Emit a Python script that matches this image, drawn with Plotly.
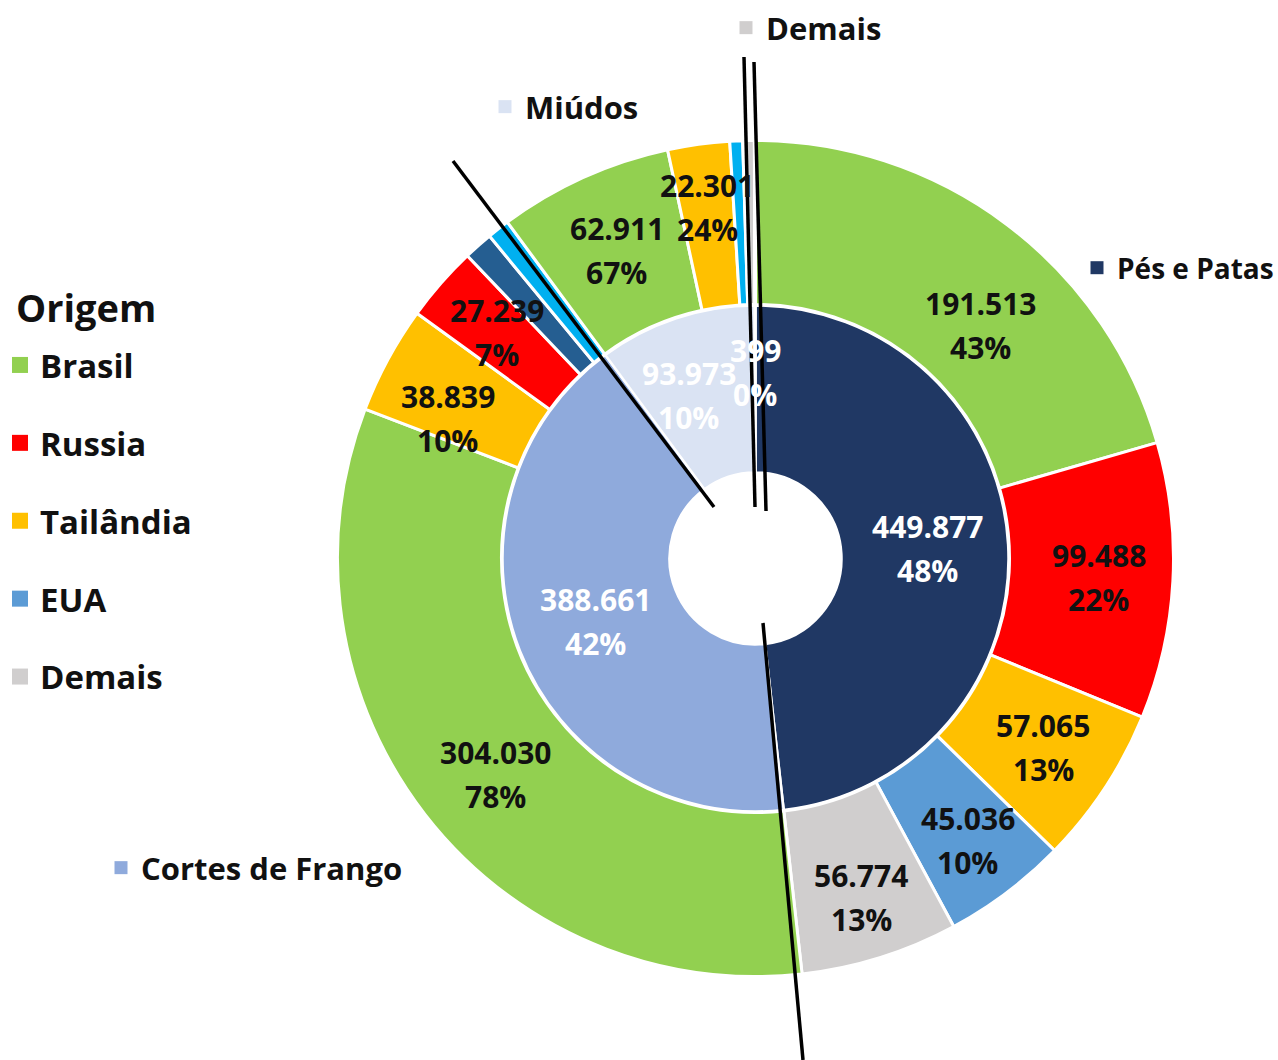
import math
import plotly.graph_objects as go

W, H = 1278, 1060

# Inner ring: product groups
grupos = ["Pés e Patas", "Cortes de Frango", "Miúdos", "Demais"]
grupo_vol = [449877, 388661, 93973, 399]
grupo_cor = ["#203864", "#8FAADC", "#DAE3F3", "#D9D9D9"]

# Outer ring: origin breakdown of each group, in the same clockwise order
sub_grupo = ["Pés e Patas"] * 5 + ["Cortes de Frango"] * 5 + ["Miúdos"] * 5 + ["Demais"]
sub_origem = ["Brasil", "Russia", "Tailândia", "EUA", "Demais",
              "Brasil", "Tailândia", "Russia", "Outra origem A", "Outra origem B",
              "Brasil", "Tailândia", "Outra origem B", "Russia", "Demais",
              "Demais"]
sub_vol = [191513, 99488, 57065, 45036, 56774,
           304030, 38839, 27239, 10500, 8053,
           62911, 22301, 4600, 1000, 3161,
           399]

# Legend entries (origins)
origens = ["Brasil", "Russia", "Tailândia", "EUA", "Demais"]
origem_cor = {"Brasil": "#92D050", "Russia": "#FF0000", "Tailândia": "#FFC000",
              "EUA": "#5B9BD5", "Demais": "#D0CECE",
              "Outra origem A": "#255E91", "Outra origem B": "#00B0F0"}

FONT = "Open Sans"
INK = "#111111"

# geometry (pixels)
CX, CY = 755.5, 558.5
R_OUT, R_MID, R_HOLE = 418, 253, 86
R_LBL_IN, R_LBL_OUT = 172, 338

# label placement tweaks (degrees, pixels) for crowded slices
nudge_in = {"Miúdos": (-4, 4), "Demais": (0, 14)}
nudge_out = {
    ("Pés e Patas", "Brasil"): (7, -14),
    ("Pés e Patas", "Russia"): (0, 6),
    ("Pés e Patas", "Tailândia"): (0, 6),
    ("Pés e Patas", "EUA"): (0, 15),
    ("Pés e Patas", "Demais"): (0, 17),
    ("Cortes de Frango", "Brasil"): (-2, 0),
    ("Cortes de Frango", "Tailândia"): (-4, 0),
    ("Cortes de Frango", "Russia"): (0, 6),
    ("Miúdos", "Tailândia"): (0, 16),
}


def fx(x):
    return x / W


def fy(y):
    return 1 - y / H


def dom(r):
    return dict(x=[fx(CX - r), fx(CX + r)], y=[fy(CY + r), fy(CY - r)])


def br(v):
    return f"{v:,}".replace(",", ".")


fig = go.Figure()

fig.add_trace(go.Pie(
    labels=grupos, values=grupo_vol, sort=False, direction="clockwise", rotation=0,
    hole=R_HOLE / R_MID, domain=dom(R_MID), textinfo="none",
    marker=dict(colors=grupo_cor, line=dict(color="white", width=2.5)),
    showlegend=False, hoverinfo="label+value+percent",
))

fig.add_trace(go.Pie(
    labels=[f"{g} · {o}" for g, o in zip(sub_grupo, sub_origem)], values=sub_vol,
    sort=False, direction="clockwise", rotation=0,
    hole=(R_MID + 1) / R_OUT, domain=dom(R_OUT), textinfo="none",
    marker=dict(colors=[origem_cor[o] for o in sub_origem], line=dict(color="white", width=3)),
    showlegend=False, hoverinfo="label+value",
))

# legend of origins via marker-only traces
for o in origens:
    fig.add_trace(go.Scatter(
        x=[None], y=[None], mode="markers", name=o, legendgroup=o,
        marker=dict(symbol="square", size=16, color=origem_cor[o]),
    ))

# group keys placed around the chart: (left px, centre y px, legend id, font size)
grupo_legend_pos = {
    "Pés e Patas": (1077, 268, "legend2", 28),
    "Cortes de Frango": (101, 868, "legend3", 31),
    "Miúdos": (485, 107, "legend4", 31),
    "Demais": (726, 28, "legend5", 31),
}
for g, c in zip(grupos, grupo_cor):
    if g == "Demais":
        c = "#D0CECE"
    fig.add_trace(go.Scatter(
        x=[None], y=[None], mode="markers", name=g, legend=grupo_legend_pos[g][2],
        marker=dict(symbol="square", size=13, color=c),
    ))

annotations = [dict(
    x=fx(14), y=fy(307), xref="paper", yref="paper", xanchor="left", yanchor="middle",
    text="Origem", showarrow=False,
    font=dict(family=FONT, size=38, color=INK, weight="bold"),
)]


def label(theta_deg, r, top, bottom, color):
    t = math.radians(theta_deg)
    x = CX + r * math.sin(t)
    y = CY - r * math.cos(t)
    for txt, dy in ((top, 22), (bottom, -22)):
        annotations.append(dict(
            x=fx(x), y=fy(y), xref="paper", yref="paper", xanchor="center", yanchor="middle",
            text=txt, showarrow=False, yshift=dy,
            font=dict(family=FONT, size=30, color=color, weight="bold"),
        ))


tot = sum(grupo_vol)
acc = 0
for g, v in zip(grupos, grupo_vol):
    da, dr = nudge_in.get(g, (0, 0))
    mid = (acc + v / 2) / tot * 360 + da
    label(mid, R_LBL_IN + dr, br(v), f"{round(v / tot * 100)}%", "white")
    acc += v

tot_sub = sum(sub_vol)
acc = 0
for g, o, v in zip(sub_grupo, sub_origem, sub_vol):
    gtot = grupo_vol[grupos.index(g)]
    share = v / gtot * 100
    if share >= 5 and g != "Demais":
        da, dr = nudge_out.get((g, o), (0, 0))
        mid = (acc + v / 2) / tot_sub * 360 + da
        label(mid, R_LBL_OUT + dr, br(v), f"{round(share)}%", INK)
    acc += v

# leader lines
lines = [((453, 161), (714, 507)), ((744, 57), (755, 507)),
         ((754, 62), (766, 511)), ((763, 623), (803, 1060))]
shapes = [dict(type="line", xref="paper", yref="paper",
               x0=fx(a[0]), y0=fy(a[1]), x1=fx(b[0]), y1=fy(b[1]),
               line=dict(color="black", width=3.5)) for a, b in lines]

layout_legends = {}
for g, (lx, ly, key, fs) in grupo_legend_pos.items():
    layout_legends[key] = dict(
        x=fx(lx), y=fy(ly), xanchor="left", yanchor="middle",
        bgcolor="rgba(0,0,0,0)", font=dict(family=FONT, size=fs, color=INK, weight="bold"),
    )

fig.update_layout(
    width=W, height=H, margin=dict(l=0, r=0, t=0, b=0, autoexpand=False),
    paper_bgcolor="white", plot_bgcolor="white",
    xaxis=dict(visible=False), yaxis=dict(visible=False),
    annotations=annotations, shapes=shapes,
    legend=dict(
        x=0.0, y=fy(337), xanchor="left", yanchor="top",
        font=dict(family=FONT, size=33, color=INK, weight="bold"),
        tracegroupgap=32, bgcolor="rgba(0,0,0,0)",
    ),
    **layout_legends,
)

fig.write_html("out.html")
